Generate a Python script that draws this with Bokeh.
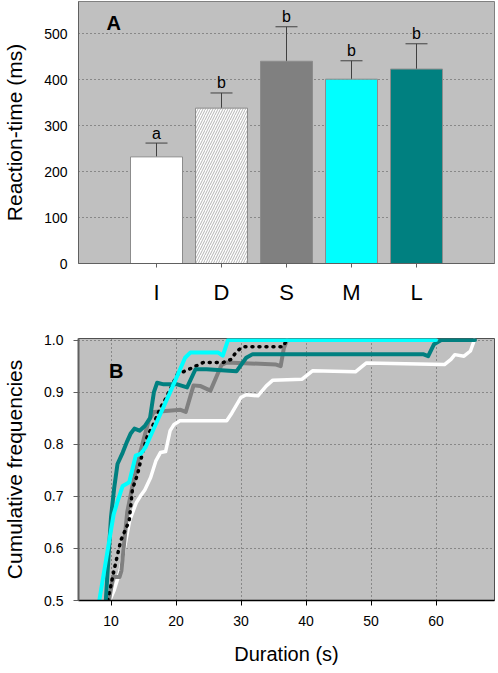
from bokeh.plotting import figure
from bokeh.models import ColumnDataSource, Whisker, TeeHead, FixedTicker, Label, Range1d, NumeralTickFormatter
from bokeh.layouts import column
from bokeh.core.properties import value
from bokeh.embed import file_html
from bokeh.resources import INLINE

FONT = "Liberation Sans"

# ---- Panel A data ----
categories = ["I", "D", "S", "M", "L"]
positions = [1, 2, 3, 4, 5]
rt_mean = [232, 338, 440, 401, 423]
rt_upper = [262, 371, 515, 441, 478]
rt_lower = [200, 307, 364, 362, 369]
letters = ["a", "b", "b", "b", "b"]
bar_colors = ["#ffffff", "#ffffff", "#808080", "#00ffff", "#008080"]
bar_hatch = [" ", "/", " ", " ", " "]
y_ticks_a = [0, 100, 200, 300, 400, 500]

# ---- Panel B data (cumulative frequencies vs duration) ----
white_x = [9.8, 10.5, 11.4, 12.9, 13.9, 14.5, 15.2, 16.1, 16.9, 17.6, 18.4, 19.1, 19.7, 20.6, 27.8, 28.6, 30.0, 30.8, 32.6, 33.9, 34.9, 39.4, 41.0, 47.6, 49.3, 61.3, 62.3, 62.9, 64.3, 65.3, 65.9]
white_y = [0.50, 0.52, 0.557, 0.655, 0.688, 0.700, 0.712, 0.736, 0.768, 0.784, 0.786, 0.826, 0.838, 0.845, 0.845, 0.860, 0.890, 0.895, 0.893, 0.912, 0.923, 0.925, 0.941, 0.939, 0.956, 0.953, 0.963, 0.972, 0.969, 0.979, 1.0]

grey_x = [9.7, 10.3, 11.3, 11.6, 12.5, 13.3, 14.2, 15.1, 15.8, 16.6, 18.4, 20.7, 21.5, 22.7, 23.7, 25.3, 27.0, 27.8, 35.4, 36.1, 36.6, 37.1]
grey_y = [0.50, 0.545, 0.545, 0.557, 0.670, 0.720, 0.770, 0.813, 0.845, 0.862, 0.864, 0.866, 0.862, 0.913, 0.912, 0.903, 0.952, 0.957, 0.953, 0.950, 0.985, 1.0]

dot_x = [9.5, 10.5, 11.5, 12.8, 13.3, 14.1, 14.8, 15.6, 16.4, 17.6, 18.4, 20.2, 22.2, 24.2, 27.3, 28.5, 29.3, 30.3, 36.5, 37.0]
dot_y = [0.50, 0.56, 0.615, 0.653, 0.714, 0.743, 0.781, 0.816, 0.835, 0.870, 0.887, 0.934, 0.945, 0.957, 0.957, 0.963, 0.978, 0.987, 0.987, 1.0]

teal_x = [9.2, 10.0, 10.5, 11.0, 11.8, 12.5, 13.0, 13.6, 14.4, 15.2, 16.0, 16.6, 17.1, 18.1, 20.2, 21.7, 23.0, 24.7, 29.3, 30.8, 31.8, 58.0, 58.8, 59.7, 60.8, 66.0]
teal_y = [0.50, 0.66, 0.717, 0.762, 0.784, 0.806, 0.820, 0.830, 0.826, 0.835, 0.850, 0.900, 0.918, 0.915, 0.915, 0.909, 0.944, 0.944, 0.940, 0.966, 0.973, 0.973, 0.969, 0.992, 1.0, 1.0]

cyan_x = [8.2, 10.4, 11.0, 11.8, 12.8, 13.8, 14.6, 15.3, 16.3, 19.1, 21.4, 22.2, 26.5, 27.2, 28.0, 60.0]
cyan_y = [0.50, 0.665, 0.690, 0.720, 0.727, 0.778, 0.782, 0.794, 0.822, 0.900, 0.966, 0.976, 0.976, 0.970, 1.0, 1.0]

x_ticks_b = [10, 20, 30, 40, 50, 60]
y_ticks_b = [0.5, 0.6, 0.7, 0.8, 0.9, 1.0]

# ================= Panel A =================
srcA = ColumnDataSource(dict(x=positions, mean=rt_mean, upper=rt_upper, lower=rt_lower,
                             letter=letters, color=bar_colors, hatch=bar_hatch))

pA = figure(width=498, height=307, x_range=Range1d(-0.2, 6.2), y_range=Range1d(0, 570),
            output_backend="svg", toolbar_location=None,
            min_border_left=74, min_border_right=4, min_border_top=1, min_border_bottom=44)
pA.background_fill_color = "#c0c0c0"
pA.outline_line_color = "#808080"
pA.xgrid.visible = False
pA.ygrid.grid_line_color = "#505050"
pA.ygrid.grid_line_dash = "1 3"
pA.ygrid.ticker = FixedTicker(ticks=y_ticks_a)

pA.vbar(x="x", top="mean", width=0.8, source=srcA, fill_color="color",
        line_color="#8c8c8c", line_width=1, hatch_pattern="hatch",
        hatch_color="#b4b4b4", hatch_scale=5, hatch_weight=1)

wh = Whisker(source=srcA, base="x", upper="upper", lower="lower", line_color="#404040", line_width=1,
             upper_head=TeeHead(size=22, line_color="#404040", line_width=1),
             lower_head=TeeHead(size=22, line_color="#404040", line_width=1))
pA.add_layout(wh)

pA.text(x="x", y="upper", text="letter", source=srcA, text_align="center",
        text_baseline="alphabetic", y_offset=-10, text_font=value(FONT),
        text_font_size="16px", text_color="black")

pA.add_layout(Label(x=0.23, y=548, text="A", text_font=FONT, text_font_style="bold",
                    text_font_size="20px", text_baseline="top", text_align="left",
                    text_color="black"))

pA.xaxis.ticker = FixedTicker(ticks=positions)
pA.xaxis.major_label_overrides = {p: c for p, c in zip(positions, categories)}
pA.xaxis.major_label_text_font = FONT
pA.xaxis.major_label_text_font_size = "22px"
pA.xaxis.major_label_text_color = "black"
pA.xaxis.major_label_standoff = 12
pA.xaxis.major_tick_out = 4
pA.xaxis.major_tick_in = 0
pA.xaxis.minor_tick_out = 0
pA.xaxis.axis_line_color = "#606060"
pA.xaxis.major_tick_line_color = "#606060"

pA.yaxis.ticker = FixedTicker(ticks=y_ticks_a)
pA.yaxis.major_label_text_font = FONT
pA.yaxis.major_label_text_font_size = "14px"
pA.yaxis.major_label_text_color = "black"
pA.yaxis.major_label_standoff = 11
pA.yaxis.major_tick_out = 0
pA.yaxis.major_tick_in = 0
pA.yaxis.minor_tick_out = 0
pA.yaxis.minor_tick_in = 0
pA.yaxis.axis_line_color = "#606060"
pA.yaxis.axis_label = "Reaction-time (ms)"
pA.yaxis.axis_label_text_font = FONT
pA.yaxis.axis_label_text_font_style = "normal"
pA.yaxis.axis_label_text_font_size = "21px"
pA.yaxis.axis_label_text_color = "black"
pA.yaxis.axis_label_standoff = 15

# ================= Panel B =================
pB = figure(width=498, height=366, x_range=Range1d(5, 69), y_range=Range1d(0.5, 1.003),
            output_backend="svg", toolbar_location=None,
            min_border_left=78, min_border_right=1, min_border_top=31, min_border_bottom=73)
pB.background_fill_color = "#c0c0c0"
pB.outline_line_color = "#505050"
for g in (pB.xgrid, pB.ygrid):
    g.grid_line_color = "#505050"
    g.grid_line_dash = "1 3"
pB.xgrid.ticker = FixedTicker(ticks=x_ticks_b)
pB.ygrid.ticker = FixedTicker(ticks=y_ticks_b)

pB.line(white_x, white_y, line_color="white", line_width=3.5, line_join="round", line_cap="round")
pB.line(grey_x, grey_y, line_color="#808080", line_width=4, line_join="round", line_cap="round")
pB.line(dot_x, dot_y, line_color="black", line_width=3.5, line_dash="1 6", line_join="round", line_cap="round")
pB.line(teal_x, teal_y, line_color="#008080", line_width=4, line_join="round", line_cap="round")
pB.line(cyan_x, cyan_y, line_color="#00ffff", line_width=4, line_join="round", line_cap="round")

pB.add_layout(Label(x=9.7, y=0.962, text="B", text_font=FONT, text_font_style="bold",
                    text_font_size="20px", text_baseline="top", text_align="left",
                    text_color="black"))

pB.xaxis.ticker = FixedTicker(ticks=x_ticks_b)
pB.xaxis.major_label_text_font = FONT
pB.xaxis.major_label_text_font_size = "14px"
pB.xaxis.major_label_text_color = "black"
pB.xaxis.major_label_standoff = 10
pB.xaxis.major_tick_out = 5
pB.xaxis.major_tick_in = 0
pB.xaxis.minor_tick_out = 0
pB.xaxis.axis_line_color = "black"
pB.xaxis.axis_line_width = 1.5
pB.xaxis.major_tick_line_color = "black"
pB.xaxis.axis_label = "Duration (s)"
pB.xaxis.axis_label_text_font = FONT
pB.xaxis.axis_label_text_font_style = "normal"
pB.xaxis.axis_label_text_font_size = "20px"
pB.xaxis.axis_label_text_color = "black"
pB.xaxis.axis_label_standoff = 14

pB.yaxis.ticker = FixedTicker(ticks=y_ticks_b)
pB.yaxis.formatter = NumeralTickFormatter(format="0.0")
pB.yaxis.major_label_text_font = FONT
pB.yaxis.major_label_text_font_size = "14px"
pB.yaxis.major_label_text_color = "black"
pB.yaxis.major_label_standoff = 10
pB.yaxis.major_tick_out = 5
pB.yaxis.major_tick_in = 0
pB.yaxis.minor_tick_out = 0
pB.yaxis.minor_tick_in = 0
pB.yaxis.axis_line_color = "#606060"
pB.yaxis.axis_line_width = 2
pB.yaxis.major_tick_line_color = "#606060"
pB.yaxis.axis_label = "Cumulative frequencies"
pB.yaxis.axis_label_text_font = FONT
pB.yaxis.axis_label_text_font_style = "normal"
pB.yaxis.axis_label_text_font_size = "21px"
pB.yaxis.axis_label_text_color = "black"
pB.yaxis.axis_label_standoff = 15

layout = column(pA, pB, spacing=0)
open("out.html", "w").write(file_html(layout, INLINE))
